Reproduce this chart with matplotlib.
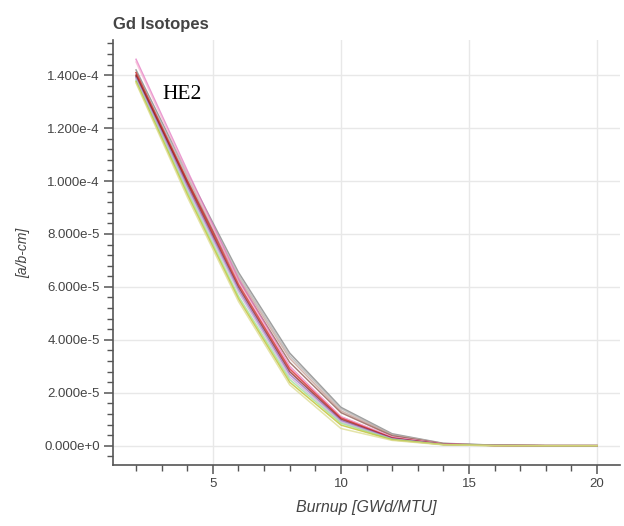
import numpy as np
import matplotlib
matplotlib.use("Agg")
import matplotlib.pyplot as plt
from matplotlib.ticker import FuncFormatter, MultipleLocator

plt.rcParams["font.family"] = ["Liberation Sans", "DejaVu Sans"]

# Burnup steps [GWd/MTU]
burnup = [2, 4, 6, 8, 10, 12, 14, 16, 18, 20]

# Gd number densities, in units of 1e-5 [a/b-cm]
SCALE = 1e-5
gd_gray = [14.20, 10.30, 6.55, 3.50, 1.45, 0.45, 0.09, 0.02, 0.00, 0.00]
gd_lightgray = [14.10, 10.20, 6.45, 3.40, 1.40, 0.42, 0.08, 0.02, 0.00, 0.00]
gd_tan = [14.00, 10.10, 6.35, 3.30, 1.32, 0.40, 0.08, 0.01, 0.00, 0.00]
gd_brown = [13.95, 10.00, 6.25, 3.15, 1.25, 0.37, 0.07, 0.01, 0.00, 0.00]
gd_pink = [14.60, 10.40, 6.30, 3.00, 1.10, 0.33, 0.06, 0.01, 0.00, 0.00]
gd_lightpink = [14.50, 10.30, 6.20, 2.95, 1.08, 0.32, 0.06, 0.01, 0.00, 0.00]
gd_red = [14.10, 10.00, 6.10, 2.90, 1.05, 0.30, 0.05, 0.01, 0.00, 0.00]
gd_maroon = [14.00, 9.90, 6.00, 2.80, 1.00, 0.28, 0.05, 0.01, 0.00, 0.00]
gd_purple = [13.90, 9.80, 5.90, 2.70, 0.95, 0.27, 0.05, 0.01, 0.00, 0.00]
gd_lilac = [13.85, 9.70, 5.80, 2.60, 0.90, 0.25, 0.04, 0.01, 0.00, 0.00]
gd_green = [13.80, 9.60, 5.65, 2.50, 0.85, 0.24, 0.04, 0.01, 0.00, 0.00]
gd_olive = [13.75, 9.50, 5.55, 2.40, 0.78, 0.22, 0.04, 0.00, 0.00, 0.00]
gd_khaki = [13.70, 9.40, 5.45, 2.30, 0.65, 0.20, 0.03, 0.00, 0.00, 0.00]

series = [
    (gd_gray, "#7f7f7f"),
    (gd_lightgray, "#b0b0b0"),
    (gd_tan, "#c49c94"),
    (gd_brown, "#8c564b"),
    (gd_pink, "#e377c2"),
    (gd_lightpink, "#f7b6d2"),
    (gd_red, "#d62728"),
    (gd_maroon, "#8b1a1a"),
    (gd_purple, "#9467bd"),
    (gd_lilac, "#c5b0d5"),
    (gd_green, "#98df8a"),
    (gd_olive, "#bcbd22"),
    (gd_khaki, "#dbdb8d"),
]

fig = plt.figure(figsize=(6.24, 5.26), dpi=100)
ax = fig.add_axes([113 / 624, 61 / 526, 507 / 624, 425 / 526])

for vals, color in series:
    ax.plot(burnup, np.array(vals) * SCALE, color=color, linewidth=1.1, alpha=0.75)

ax.set_xlim(1.1, 20.9)
ax.set_ylim(-0.73e-5, 15.33e-5)

ax.xaxis.set_major_locator(MultipleLocator(5))
ax.xaxis.set_minor_locator(MultipleLocator(1))
ax.yaxis.set_major_locator(MultipleLocator(2e-5))
ax.yaxis.set_minor_locator(MultipleLocator(4e-6))


def sci_fmt(v, pos):
    if abs(v) < 1e-12:
        return "0.000e+0"
    exp = int(np.floor(np.log10(abs(v))))
    mant = v / 10 ** exp
    sign = "+" if exp >= 0 else "-"
    return f"{mant:.3f}e{sign}{abs(exp)}"


ax.yaxis.set_major_formatter(FuncFormatter(sci_fmt))

for side in ["top", "right"]:
    ax.spines[side].set_visible(False)
for side in ["left", "bottom"]:
    ax.spines[side].set_color("#555555")
    ax.spines[side].set_linewidth(1.2)

ax.tick_params(which="major", direction="out", length=6.5, width=1.1,
               color="#555555", labelsize=9.5, labelcolor="#444444", pad=3)
ax.tick_params(which="minor", direction="out", length=4, width=1.0, color="#555555")

ax.grid(True, which="major", color="#e8e8e8", linewidth=1.0)
ax.set_axisbelow(True)

ax.set_xlabel("Burnup [GWd/MTU]", fontsize=11.5, style="italic", color="#444444", labelpad=7)
ax.set_ylabel("[a/b-cm]", fontsize=10, style="italic", color="#444444", labelpad=10)
ax.set_title("Gd Isotopes", loc="left", fontsize=12, fontweight="bold",
             color="#444444", pad=8)

ax.text(3.05, 1.326e-4, "HE2", fontsize=15.5, family="Liberation Serif", color="black",
        va="center", ha="left")

fig.savefig("out.png", dpi=100)
